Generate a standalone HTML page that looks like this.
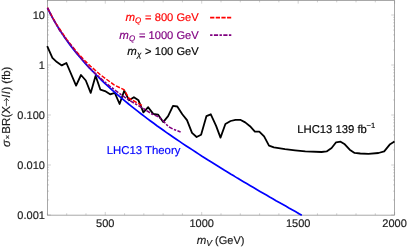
<!DOCTYPE html>
<html><head><meta charset="utf-8"><style>
html,body{margin:0;padding:0;background:#fff;}
svg{display:block;will-change:transform;}
text{font-family:"Liberation Sans",sans-serif;font-size:11px;color:#1a1a1a;fill:currentColor;stroke:currentColor;text-rendering:geometricPrecision;stroke-width:0.17px;paint-order:stroke;}
</style></head><body>
<svg width="407" height="247" viewBox="0 0 407 247">
<rect width="407" height="247" fill="#fff"/>
<g stroke="#999" stroke-width="0.45" fill="none">
<line x1="47.40" y1="215.15" x2="47.40" y2="213.25"/><line x1="47.40" y1="0.45" x2="47.40" y2="2.35"/><line x1="66.69" y1="215.15" x2="66.69" y2="213.25"/><line x1="66.69" y1="0.45" x2="66.69" y2="2.35"/><line x1="85.98" y1="215.15" x2="85.98" y2="213.25"/><line x1="85.98" y1="0.45" x2="85.98" y2="2.35"/><line x1="105.27" y1="215.15" x2="105.27" y2="211.95000000000002"/><line x1="105.27" y1="0.45" x2="105.27" y2="3.6500000000000004"/><line x1="124.56" y1="215.15" x2="124.56" y2="213.25"/><line x1="124.56" y1="0.45" x2="124.56" y2="2.35"/><line x1="143.84" y1="215.15" x2="143.84" y2="213.25"/><line x1="143.84" y1="0.45" x2="143.84" y2="2.35"/><line x1="163.13" y1="215.15" x2="163.13" y2="213.25"/><line x1="163.13" y1="0.45" x2="163.13" y2="2.35"/><line x1="182.42" y1="215.15" x2="182.42" y2="213.25"/><line x1="182.42" y1="0.45" x2="182.42" y2="2.35"/><line x1="201.71" y1="215.15" x2="201.71" y2="211.95000000000002"/><line x1="201.71" y1="0.45" x2="201.71" y2="3.6500000000000004"/><line x1="221.00" y1="215.15" x2="221.00" y2="213.25"/><line x1="221.00" y1="0.45" x2="221.00" y2="2.35"/><line x1="240.29" y1="215.15" x2="240.29" y2="213.25"/><line x1="240.29" y1="0.45" x2="240.29" y2="2.35"/><line x1="259.58" y1="215.15" x2="259.58" y2="213.25"/><line x1="259.58" y1="0.45" x2="259.58" y2="2.35"/><line x1="278.87" y1="215.15" x2="278.87" y2="213.25"/><line x1="278.87" y1="0.45" x2="278.87" y2="2.35"/><line x1="298.16" y1="215.15" x2="298.16" y2="211.95000000000002"/><line x1="298.16" y1="0.45" x2="298.16" y2="3.6500000000000004"/><line x1="317.44" y1="215.15" x2="317.44" y2="213.25"/><line x1="317.44" y1="0.45" x2="317.44" y2="2.35"/><line x1="336.73" y1="215.15" x2="336.73" y2="213.25"/><line x1="336.73" y1="0.45" x2="336.73" y2="2.35"/><line x1="356.02" y1="215.15" x2="356.02" y2="213.25"/><line x1="356.02" y1="0.45" x2="356.02" y2="2.35"/><line x1="375.31" y1="215.15" x2="375.31" y2="213.25"/><line x1="375.31" y1="0.45" x2="375.31" y2="2.35"/><line x1="394.60" y1="215.15" x2="394.60" y2="211.95000000000002"/><line x1="394.60" y1="0.45" x2="394.60" y2="3.6500000000000004"/><line x1="47.55" y1="215.00" x2="50.949999999999996" y2="215.00"/><line x1="394.6" y1="215.00" x2="391.20000000000005" y2="215.00"/><line x1="47.55" y1="199.95" x2="49.05" y2="199.95"/><line x1="394.6" y1="199.95" x2="393.1" y2="199.95"/><line x1="47.55" y1="191.14" x2="49.05" y2="191.14"/><line x1="394.6" y1="191.14" x2="393.1" y2="191.14"/><line x1="47.55" y1="184.90" x2="49.05" y2="184.90"/><line x1="394.6" y1="184.90" x2="393.1" y2="184.90"/><line x1="47.55" y1="180.05" x2="49.05" y2="180.05"/><line x1="394.6" y1="180.05" x2="393.1" y2="180.05"/><line x1="47.55" y1="176.09" x2="49.05" y2="176.09"/><line x1="394.6" y1="176.09" x2="393.1" y2="176.09"/><line x1="47.55" y1="172.75" x2="49.05" y2="172.75"/><line x1="394.6" y1="172.75" x2="393.1" y2="172.75"/><line x1="47.55" y1="169.85" x2="49.05" y2="169.85"/><line x1="394.6" y1="169.85" x2="393.1" y2="169.85"/><line x1="47.55" y1="167.29" x2="49.05" y2="167.29"/><line x1="394.6" y1="167.29" x2="393.1" y2="167.29"/><line x1="47.55" y1="165.00" x2="50.949999999999996" y2="165.00"/><line x1="394.6" y1="165.00" x2="391.20000000000005" y2="165.00"/><line x1="47.55" y1="149.95" x2="49.05" y2="149.95"/><line x1="394.6" y1="149.95" x2="393.1" y2="149.95"/><line x1="47.55" y1="141.14" x2="49.05" y2="141.14"/><line x1="394.6" y1="141.14" x2="393.1" y2="141.14"/><line x1="47.55" y1="134.90" x2="49.05" y2="134.90"/><line x1="394.6" y1="134.90" x2="393.1" y2="134.90"/><line x1="47.55" y1="130.05" x2="49.05" y2="130.05"/><line x1="394.6" y1="130.05" x2="393.1" y2="130.05"/><line x1="47.55" y1="126.09" x2="49.05" y2="126.09"/><line x1="394.6" y1="126.09" x2="393.1" y2="126.09"/><line x1="47.55" y1="122.75" x2="49.05" y2="122.75"/><line x1="394.6" y1="122.75" x2="393.1" y2="122.75"/><line x1="47.55" y1="119.85" x2="49.05" y2="119.85"/><line x1="394.6" y1="119.85" x2="393.1" y2="119.85"/><line x1="47.55" y1="117.29" x2="49.05" y2="117.29"/><line x1="394.6" y1="117.29" x2="393.1" y2="117.29"/><line x1="47.55" y1="115.00" x2="50.949999999999996" y2="115.00"/><line x1="394.6" y1="115.00" x2="391.20000000000005" y2="115.00"/><line x1="47.55" y1="99.95" x2="49.05" y2="99.95"/><line x1="394.6" y1="99.95" x2="393.1" y2="99.95"/><line x1="47.55" y1="91.14" x2="49.05" y2="91.14"/><line x1="394.6" y1="91.14" x2="393.1" y2="91.14"/><line x1="47.55" y1="84.90" x2="49.05" y2="84.90"/><line x1="394.6" y1="84.90" x2="393.1" y2="84.90"/><line x1="47.55" y1="80.05" x2="49.05" y2="80.05"/><line x1="394.6" y1="80.05" x2="393.1" y2="80.05"/><line x1="47.55" y1="76.09" x2="49.05" y2="76.09"/><line x1="394.6" y1="76.09" x2="393.1" y2="76.09"/><line x1="47.55" y1="72.75" x2="49.05" y2="72.75"/><line x1="394.6" y1="72.75" x2="393.1" y2="72.75"/><line x1="47.55" y1="69.85" x2="49.05" y2="69.85"/><line x1="394.6" y1="69.85" x2="393.1" y2="69.85"/><line x1="47.55" y1="67.29" x2="49.05" y2="67.29"/><line x1="394.6" y1="67.29" x2="393.1" y2="67.29"/><line x1="47.55" y1="65.00" x2="50.949999999999996" y2="65.00"/><line x1="394.6" y1="65.00" x2="391.20000000000005" y2="65.00"/><line x1="47.55" y1="49.95" x2="49.05" y2="49.95"/><line x1="394.6" y1="49.95" x2="393.1" y2="49.95"/><line x1="47.55" y1="41.14" x2="49.05" y2="41.14"/><line x1="394.6" y1="41.14" x2="393.1" y2="41.14"/><line x1="47.55" y1="34.90" x2="49.05" y2="34.90"/><line x1="394.6" y1="34.90" x2="393.1" y2="34.90"/><line x1="47.55" y1="30.05" x2="49.05" y2="30.05"/><line x1="394.6" y1="30.05" x2="393.1" y2="30.05"/><line x1="47.55" y1="26.09" x2="49.05" y2="26.09"/><line x1="394.6" y1="26.09" x2="393.1" y2="26.09"/><line x1="47.55" y1="22.75" x2="49.05" y2="22.75"/><line x1="394.6" y1="22.75" x2="393.1" y2="22.75"/><line x1="47.55" y1="19.85" x2="49.05" y2="19.85"/><line x1="394.6" y1="19.85" x2="393.1" y2="19.85"/><line x1="47.55" y1="17.29" x2="49.05" y2="17.29"/><line x1="394.6" y1="17.29" x2="393.1" y2="17.29"/><line x1="47.55" y1="15.00" x2="50.949999999999996" y2="15.00"/><line x1="394.6" y1="15.00" x2="391.20000000000005" y2="15.00"/>
</g>
<rect x="47.55" y="0.45" width="347.05" height="214.70000000000002" fill="none" stroke="#848484" stroke-width="0.7"/>
<g fill="none" stroke-linejoin="round" stroke-linecap="butt">
<path d="M47.2,46.1 L52.4,57.8 L56.9,62.1 L61.8,65.4 L66.4,63.0 L76.1,85.6 L81.0,75.0 L85.8,80.5 L90.7,92.9 L95.6,75.8 L100.4,89.7 L105.0,91.1 L110.1,94.3 L114.8,92.9 L119.6,104.0 L124.2,90.7 L129.1,100.3 L133.9,97.2 L138.5,100.3 L143.4,112.3 L148.2,107.2 L153.2,113.9 L158.0,114.6 L163.2,122.1 L168.1,116.2 L173.0,105.9 L177.3,106.5 L182.3,114.3 L187.0,120.1 L192.0,132.9 L196.6,137.0 L201.1,134.7 L206.4,116.2 L210.8,114.3 L216.1,125.9 L220.5,137.6 L225.4,124.0 L230.6,121.0 L235.5,119.8 L240.2,119.8 L245.2,122.4 L250.0,126.2 L254.9,131.6 L259.3,131.6 L264.1,136.4 L269.0,145.7 L273.9,147.4 L285.0,149.2 L295.0,150.3 L305.3,151.4 L321.5,152.0 L326.6,151.4 L331.6,148.0 L336.1,142.3 L340.6,141.7 L344.8,144.3 L349.7,149.7 L354.6,152.9 L360.3,153.5 L368.4,153.8 L378.5,153.0 L384.2,151.4 L389.7,144.6 L394.5,141.6" stroke="#000" stroke-width="1.8"/>
<path d="M47.5,8.0 L50.7,14.4 L53.9,20.3 L57.2,25.9 L60.4,31.0 L63.6,35.9 L66.8,40.5 L70.0,44.9 L73.3,49.1 L76.5,53.1 L79.7,57.0 L82.9,60.7 L86.1,64.4 L89.3,67.8 L92.6,71.2 L95.8,74.5 L99.0,77.7 L102.2,80.8 L105.4,83.9 L108.7,86.9 L111.9,89.8 L115.1,92.6 L118.3,95.4 L121.5,98.2 L124.8,100.9 L128.0,103.5 L131.2,106.1 L134.4,108.7 L137.6,111.2 L140.9,113.7 L144.1,116.2 L147.3,118.6 L150.5,121.0 L153.7,123.3 L156.9,125.7 L160.2,128.0 L163.4,130.3 L166.6,132.6 L169.8,134.8 L173.0,137.0 L176.3,139.2 L179.5,141.4 L182.7,143.6 L185.9,145.7 L189.1,147.8 L192.4,149.9 L195.6,152.0 L198.8,154.1 L202.0,156.2 L205.2,158.2 L208.4,160.3 L211.7,162.3 L214.9,164.3 L218.1,166.3 L221.3,168.3 L224.5,170.3 L227.8,172.2 L231.0,174.2 L234.2,176.1 L237.4,178.1 L240.6,180.0 L243.9,181.9 L247.1,183.8 L250.3,185.7 L253.5,187.6 L256.7,189.5 L260.0,191.4 L263.2,193.2 L266.4,195.1 L269.6,197.0 L272.8,198.8 L276.0,200.7 L279.3,202.5 L282.5,204.3 L285.7,206.1 L288.9,208.0 L292.1,209.8 L295.4,211.6 L298.6,213.4 L301.8,215.2" stroke="#0000ff" stroke-width="1.7"/>
<path d="M47.5,7.7 L52.8,17.9 L56.2,23.8 L66.8,39.6 L77.0,52.3 L84.7,60.6 L90.6,66.2 L100.0,74.5 L113.7,84.6 L116.0,85.9 L123.9,89.6 L124.6,90.6 L129.0,98.4 L143.4,106.1" stroke="#f00" stroke-width="1.5" stroke-dasharray="4.25,1.6"/>
<path d="M47.5,8.0 L52.6,17.9 L55.9,23.7 L59.4,30.0 L66.3,39.3 L77.3,53.8 L90.0,68.4 L100.0,77.9 L106.0,83.0 L110.0,86.3 L116.0,90.9 L128.5,99.9 L143.2,108.4 L146.6,110.6 L152.3,114.2 L158.4,116.7 L163.3,121.0 L168.3,126.5 L173.2,129.2 L180.6,131.9" stroke="#800080" stroke-width="1.6" stroke-dasharray="2.4,1.4,4.2,1.4"/>
<path d="M210.1,17.55 H231.2" stroke="#f00" stroke-width="1.7" stroke-dasharray="4.25,1.4"/>
<path d="M210.1,35.1 H231.3" stroke="#800080" stroke-width="1.8" stroke-dasharray="2.4,1.4,4.2,1.4"/>
</g>
<text x="44.9" y="18.9" text-anchor="end">10</text><text x="44.9" y="68.9" text-anchor="end">1</text><text x="44.9" y="118.9" text-anchor="end">0.100</text><text x="44.9" y="168.9" text-anchor="end">0.010</text><text x="44.9" y="218.9" text-anchor="end">0.001</text>
<text x="105.3" y="227.2" text-anchor="middle">500</text><text x="201.7" y="227.2" text-anchor="middle">1000</text><text x="298.2" y="227.2" text-anchor="middle">1500</text><text x="394.6" y="227.2" text-anchor="middle">2000</text>
<text x="198.7" y="21.1" text-anchor="end" style="color:#f00"><tspan font-style="italic" font-size="11.5px">m</tspan><tspan font-style="italic" font-size="8px" dy="2.2" dx="0">Q</tspan><tspan dy="-2.2" dx="0.7" font-size="11.15px"> = 800 GeV</tspan></text>
<text x="198.7" y="38.8" text-anchor="end" style="color:#800080"><tspan font-style="italic" font-size="11.5px">m</tspan><tspan font-style="italic" font-size="8px" dy="2.2" dx="0">Q</tspan><tspan dy="-2.2" dx="0.7" font-size="11.15px"> = 1000 GeV</tspan></text>
<text x="198.7" y="54.7" text-anchor="end" style="color:#000"><tspan font-style="italic" font-size="11.5px">m</tspan><tspan font-style="italic" font-size="8px" dy="2.2" dx="0">χ</tspan><tspan dy="-2.2" dx="0.7" font-size="11.15px"> &gt; 100 GeV</tspan></text>
<text x="106.8" y="154" style="color:#00f;font-size:11.35px">LHC13 Theory</text>
<text x="297.2" y="132.6" style="color:#000;font-size:11.3px">LHC13 139 fb<tspan font-size="7.6px" dy="-4.9" dx="-0.3">−1</tspan></text>
<text x="220.6" y="243.9" text-anchor="middle"><tspan font-style="italic" font-size="11.5px">m</tspan><tspan font-style="italic" font-size="8.6px" dy="2">V</tspan><tspan dy="-2"> (GeV)</tspan></text>
<g transform="translate(10.0,0) rotate(-90)">
<text x="-146.9" y="0" style="font-size:11.6px"><tspan font-style="italic">σ</tspan><tspan font-size="7.5px" dx="0.6" dy="-0.4">×</tspan><tspan dx="1.2" dy="0.4">BR(X</tspan></text>
<path d="M-106.2,-3.6 H-98.4 M-101.0,-6.1 L-98.4,-3.6 L-101.0,-1.1" stroke="#222" stroke-width="0.8" fill="none"/>
<text x="-97.4" y="0" style="font-size:11.3px"><tspan font-style="italic" letter-spacing="0.9">ll</tspan>) (fb)</text>
</g>
</svg>
</body></html>
